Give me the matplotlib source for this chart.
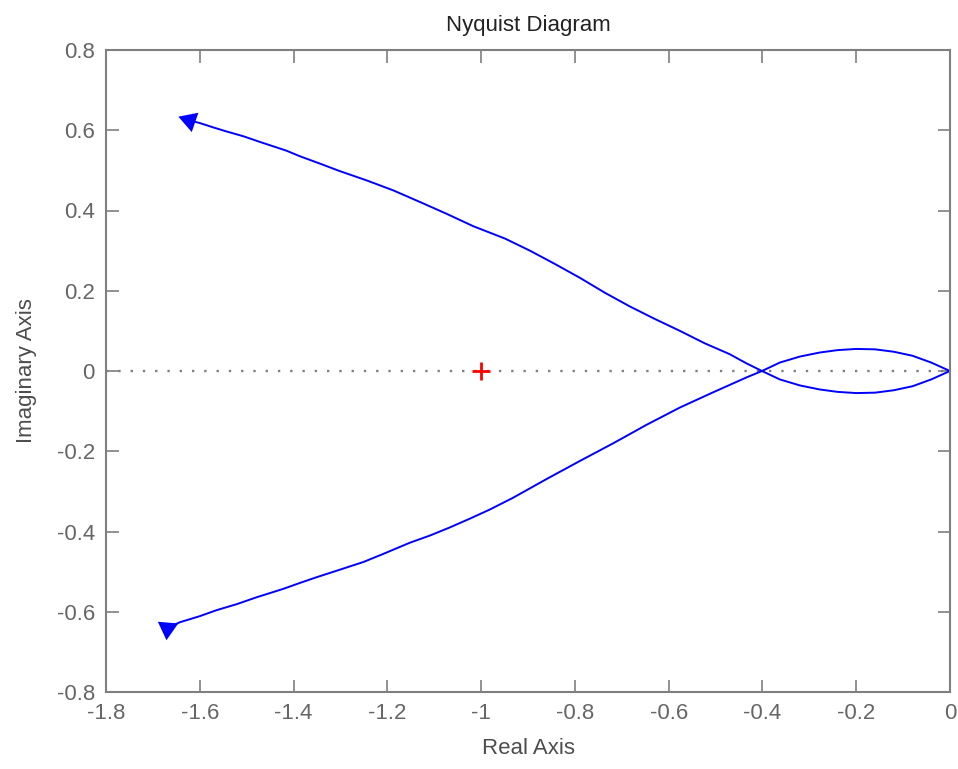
import numpy as np
import matplotlib
matplotlib.use("Agg")
import matplotlib.pyplot as plt

# positive-frequency branch: starts top-left (arrow), crosses at -0.4, lower half of the small loop
upper_re = [-1.623, -1.600, -1.571, -1.543, -1.507, -1.472, -1.415, -1.386, -1.344,
            -1.301, -1.244, -1.187, -1.130, -1.074, -1.017, -0.949, -0.896,
            -0.843, -0.789, -0.736, -0.683, -0.630, -0.576, -0.523, -0.470, -0.434, -0.401,
            -0.363, -0.320, -0.278, -0.240, -0.200, -0.160, -0.120, -0.080, -0.040, 0.0]
upper_im = [0.625, 0.618, 0.607, 0.597, 0.585, 0.571, 0.549, 0.535, 0.517,
            0.498, 0.475, 0.450, 0.421, 0.392, 0.361, 0.330, 0.300,
            0.267, 0.232, 0.195, 0.161, 0.130, 0.100, 0.069, 0.042, 0.019, 0.0,
            -0.021, -0.036, -0.046, -0.052, -0.055, -0.054, -0.048, -0.038, -0.021, 0.0]

# negative-frequency branch: starts bottom-left (arrow), upper half of the loop
lower_re = [-1.670, -1.642, -1.600, -1.564, -1.521, -1.479, -1.422, -1.386, -1.351,
            -1.306, -1.251, -1.209, -1.152, -1.109, -1.067, -1.024, -0.981,
            -0.932, -0.860, -0.789, -0.718, -0.647, -0.576, -0.505, -0.434, -0.401,
            -0.363, -0.320, -0.278, -0.240, -0.200, -0.160, -0.120, -0.080, -0.040, 0.0]
lower_im = [-0.640, -0.626, -0.611, -0.596, -0.581, -0.564, -0.543, -0.528, -0.514,
            -0.497, -0.476, -0.456, -0.428, -0.410, -0.390, -0.368, -0.345,
            -0.316, -0.269, -0.224, -0.180, -0.134, -0.091, -0.053, -0.016, 0.0,
            0.021, 0.036, 0.046, 0.052, 0.055, 0.054, 0.048, 0.038, 0.021, 0.0]

# arrowhead tilt (degrees) for each branch
arrow_angle = {"upper": 191, "lower": 175}

critical_point = (-1, 0)
xticks = [-1.8, -1.6, -1.4, -1.2, -1, -0.8, -0.6, -0.4, -0.2, 0]
yticks = [-0.8, -0.6, -0.4, -0.2, 0, 0.2, 0.4, 0.6, 0.8]

plt.rcParams["font.family"] = ["Liberation Sans", "DejaVu Sans"]
grey = "#7f7f7f"
txt = "#4d4d4d"
blue = "#0000ff"

fig = plt.figure(figsize=(9.58, 7.69), dpi=100)
ax = fig.add_axes([106 / 958, 1 - 692 / 769, 844 / 958, 642 / 769])

ax.axhline(0, color="#808080", linestyle=(0, (1, 4.2)), linewidth=1.7, zorder=1)
ax.plot(upper_re, upper_im, color=blue, linewidth=1.4, zorder=2)
ax.plot(lower_re, lower_im, color=blue, linewidth=1.4, zorder=2)

# filled arrowheads at the start of each branch
ax.plot(upper_re[0], upper_im[0], marker=(3, 0, arrow_angle["upper"]), markersize=17,
        color=blue, mew=0, zorder=3)
ax.plot(lower_re[0], lower_im[0], marker=(3, 0, arrow_angle["lower"]), markersize=17,
        color=blue, mew=0, zorder=3)

ax.plot(*critical_point, marker="+", color="#ff0000", markersize=13, mew=2.0, zorder=3)

ax.set_xlim(-1.8, 0)
ax.set_ylim(-0.8, 0.8)
ax.set_xticks(xticks)
ax.set_yticks(yticks)
ax.set_xticklabels([f"{t:g}" for t in xticks])
ax.set_yticklabels([f"{t:g}" for t in yticks])
ax.tick_params(direction="in", length=9, width=1.2, color=grey, labelcolor="#666666",
               labelsize=16, top=True, right=True)
ax.tick_params(axis="x", pad=8)
ax.tick_params(axis="y", pad=8)
for s in ax.spines.values():
    s.set_color(grey)
    s.set_linewidth(1.5)

ax.set_xlabel("Real Axis", fontsize=16, color=txt, labelpad=10)
ax.set_ylabel("Imaginary Axis", fontsize=16, color=txt, labelpad=14)
ax.set_title("Nyquist Diagram", fontsize=16, color="#222222", pad=14)

fig.savefig("out.png", dpi=100)
